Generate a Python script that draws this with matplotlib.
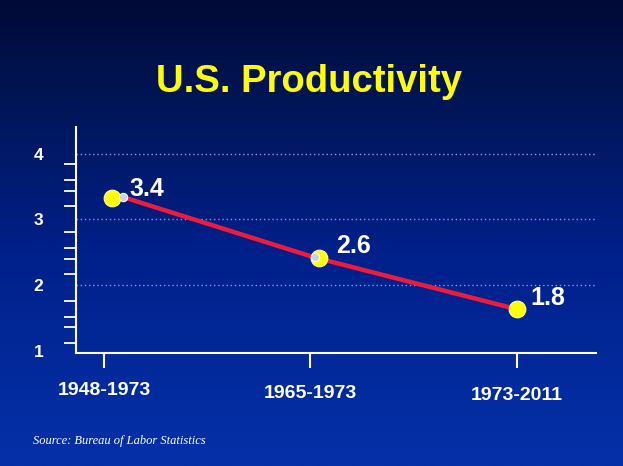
import numpy as np
import matplotlib
matplotlib.use("Agg")
import matplotlib.pyplot as plt
from matplotlib.colors import LinearSegmentedColormap
import matplotlib.transforms as mtransforms

# ---- data ----
periods = ["1948-1973", "1965-1973", "1973-2011"]
growth_labels = ["3.4", "2.6", "1.8"]
marker_x = [0.04, 1.04, 2.0]
marker_y = [3.32, 2.41, 1.63]
line_x = [0.093, 1.02, 2.0]
line_y = [3.34, 2.42, 1.63]
small_dot_x = [0.093, 1.02]
small_dot_y = [3.34, 2.42]
label_x = [0.21, 1.21, 2.15]
label_y = [3.47, 2.59, 1.80]
y_major = [1, 2, 3, 4]
y_minor = [3.85, 3.60, 3.44, 3.21, 2.81, 2.56, 2.40, 2.17, 1.76, 1.51, 1.36, 1.11]
grid_levels = [2, 3, 4]
title = "U.S. Productivity"
source = "Source: Bureau of Labor Statistics"

W, H = 623, 466
fig = plt.figure(figsize=(W / 100, H / 100), dpi=100)

# background gradient
bg = fig.add_axes([0, 0, 1, 1], zorder=-10)
cmap = LinearSegmentedColormap.from_list(
    "bg",
    [(0.0, (0/255, 10/255, 56/255)),
     (0.21, (0/255, 21/255, 85/255)),
     (0.54, (0/255, 32/255, 138/255)),
     (0.86, (3/255, 44/255, 160/255)),
     (1.0, (5/255, 48/255, 168/255))])
grad = np.linspace(0, 1, 256).reshape(-1, 1)
bg.imshow(grad, aspect="auto", cmap=cmap, extent=[0, 1, 1, 0])
bg.set_xlim(0, 1)
bg.set_ylim(1, 0)
bg.axis("off")

left, right, bottom_px, top_px = 75.5, 596, 352.5, 127
ax = fig.add_axes([left / W, (H - bottom_px) / H, (right - left) / W, (bottom_px - top_px) / H])
ax.patch.set_alpha(0)

ax.set_xlim(-0.138, 2.383)
ax.set_ylim(0.97, 4.41)

for g in grid_levels:
    ax.axhline(g, color="#8c9ad8", lw=1.0, ls=(0, (1, 2)), zorder=1)

ax.plot(line_x, line_y, color="#ee1c3c", lw=3.2, zorder=3, solid_capstyle="butt")
ax.plot(marker_x, marker_y, ls="none", marker="o", ms=12, mfc="#ffff00",
        mec="#ffffa0", mew=0.8, zorder=4)
ax.plot(small_dot_x, small_dot_y, ls="none", marker="o", ms=6, mfc="#c8d4e4",
        mec="#ffffff", mew=0.8, zorder=5)

for tx, ty, t in zip(label_x, label_y, growth_labels):
    ax.text(tx, ty, t, color="white", fontsize=18, fontweight="bold",
            family="Liberation Sans", ha="center", va="center", zorder=6)

for s in ["top", "right"]:
    ax.spines[s].set_visible(False)
for s in ["left", "bottom"]:
    ax.spines[s].set_color("white")
    ax.spines[s].set_linewidth(1.5)

ax.set_xticks(range(len(periods)))
ax.set_xticklabels(periods)
ax.tick_params(axis="x", colors="white", length=11, width=1.5, direction="out",
               pad=12.5, labelsize=14)
ax.set_yticks(y_major)
ax.set_yticks(y_minor, minor=True)
ax.tick_params(axis="y", which="major", length=0, pad=23, colors="white", labelsize=12.5)
ax.tick_params(axis="y", which="minor", length=8.5, width=1.3, colors="white")
for lab in ax.get_xticklabels() + ax.get_yticklabels():
    lab.set_fontweight("bold")
    lab.set_family("Liberation Sans")
    lab.set_color("white")

offsets = [-3, 0, 2]
for lab, dy in zip(ax.get_xticklabels(), offsets):
    lab.set_transform(lab.get_transform() + mtransforms.ScaledTranslation(0, -dy / 100, fig.dpi_scale_trans))

fig.text(308.5 / W, 1 - 82 / H, title, color="#ffff00", fontsize=27.5,
         fontweight="bold", family="Liberation Sans", ha="center", va="center")
fig.text(33 / W, 1 - 441 / H, source, color="white", fontsize=9,
         style="italic", family="Liberation Serif", ha="left", va="center")

fig.savefig("out.png", dpi=100)
